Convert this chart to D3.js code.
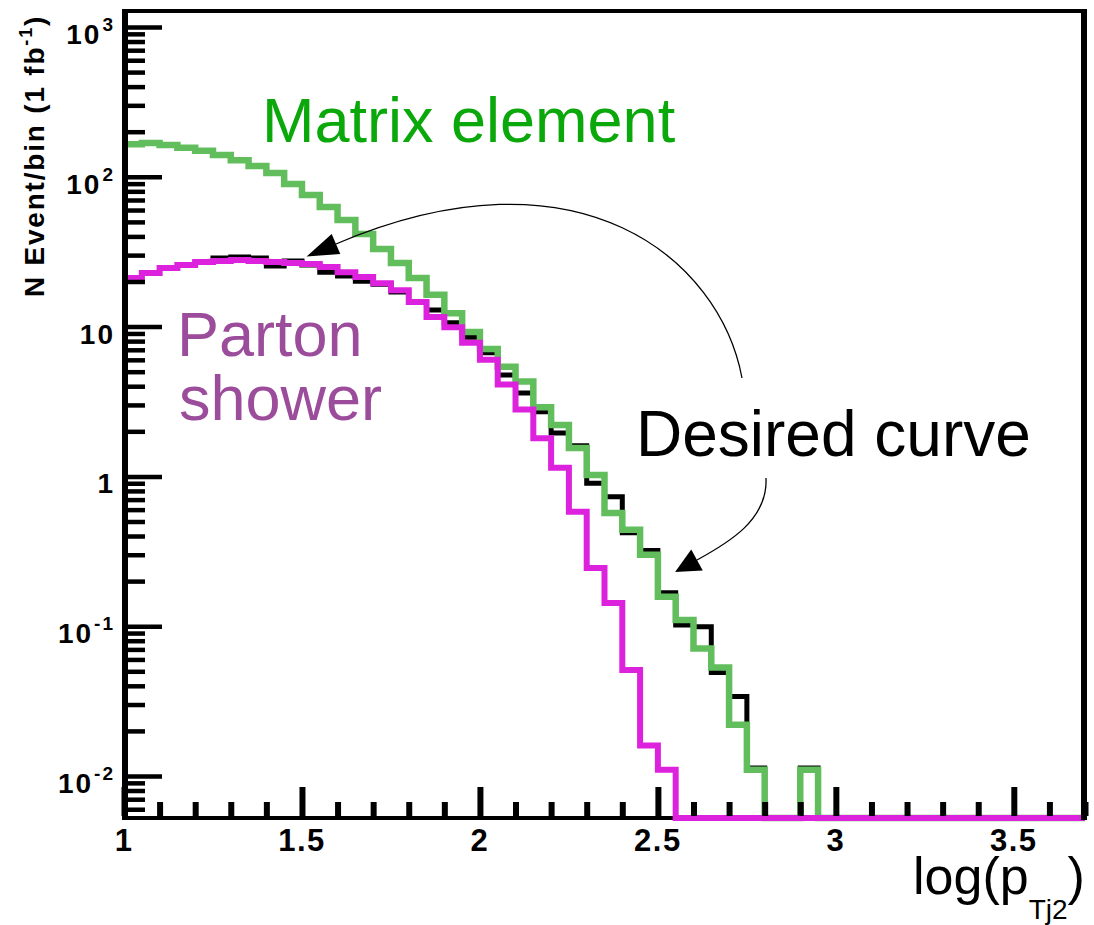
<!DOCTYPE html>
<html>
<head>
<meta charset="utf-8">
<script src="https://cdn.jsdelivr.net/npm/d3@7"></script>
<style>
  body { margin: 0; background: #fff; }
  svg { display: block; }
</style>
</head>
<body>
<svg id="chart" width="1094" height="925"></svg>
<script>
// Histogram binning of log(pT of the second jet)
const binLow = 1.0;
const binWidth = 0.05;

// Events per bin (1 fb^-1), one entry per bin starting at binLow
const matrixElement = [165, 168, 163, 156, 149, 140, 129, 118, 106, 89.5,
  75.6, 62.9, 51.5, 41.5, 33.0, 26.6, 21.1, 16.3, 12.3, 9.2,
  7.1, 5.4, 4.3, 2.9, 2.2, 1.55, 1.02, 0.57, 0.44, 0.30,
  0.157, 0.11, 0.071, 0.053, 0.022, 0.011, 0, 0, 0.011, 0,
  0, 0, 0, 0, 0, 0, 0, 0, 0, 0, 0, 0, 0, 0];

const partonShower = [21.1, 22.8, 24.6, 25.8, 27.0, 27.4, 27.8, 27.4, 27.0, 26.6,
  26.2, 25.0, 23.1, 21.4, 19.5, 17.5, 14.6, 11.6, 9.9, 7.8,
  6.0, 4.1, 2.8, 1.8, 1.14, 0.58, 0.245, 0.143, 0.051, 0.016,
  0.011, 0, 0, 0, 0, 0, 0, 0, 0, 0,
  0, 0, 0, 0, 0, 0, 0, 0, 0, 0, 0, 0, 0, 0];

const desiredCurve = [21.1, 22.8, 24.6, 25.8, 27.0, 28.7, 29.1, 28.7, 25.4, 27.4,
  25.8, 23.1, 21.8, 20.1, 19.2, 17.0, 14.6, 12.9, 10.6, 8.5,
  6.7, 4.75, 3.6, 2.7, 1.95, 1.6, 0.90, 0.73, 0.42, 0.32,
  0.167, 0.102, 0.099, 0.049, 0.034, 0.0113, 0, 0, 0.0113, 0,
  0, 0, 0, 0, 0, 0, 0, 0, 0, 0, 0, 0, 0, 0];

// Axis ticks
const xMajorTicks = [1, 1.5, 2, 2.5, 3, 3.5];
const xTickLabels = ["1", "1.5", "2", "2.5", "3", "3.5"];
const xMinorStep = 0.1;
const yDecades = [3, 2, 1, 0, -1, -2];
const xDomain = [1, 3.7];
const yDomain = [Math.pow(10, -2.2804), Math.pow(10, 3.1068)];

const svg = d3.select("#chart");
const frame = { left: 125, right: 1084, top: 11, bottom: 818 };

const x = d3.scaleLinear().domain(xDomain).range([124, 1085]);
const y = d3.scaleLog().domain(yDomain).range([frame.bottom, frame.top]);

const tickFont = "'Liberation Sans', Arial, Helvetica, sans-serif";

// ---- bottom axis line (histograms may overlay it) ----
svg.append("line")
  .attr("x1", frame.left - 3).attr("x2", frame.right + 3)
  .attr("y1", frame.bottom).attr("y2", frame.bottom)
  .attr("stroke", "#000").attr("stroke-width", 4);

// ---- histograms ----
function stepPoints(values) {
  const pts = values.map((v, i) => [binLow + i * binWidth, v]);
  pts.push([binLow + values.length * binWidth, values[values.length - 1]]);
  return pts;
}
const ymin = yDomain[0];
const histLine = d3.line()
  .x(d => x(d[0]))
  .y(d => y(Math.max(d[1], ymin)))
  .curve(d3.curveStepAfter);

const series = [
  { values: desiredCurve, color: "#000000", width: 5 },
  { values: matrixElement, color: "#62be5c", width: 6.5 },
  { values: partonShower, color: "#dd22dd", width: 6 }
];
svg.append("g").selectAll("path").data(series).join("path")
  .attr("d", s => histLine(stepPoints(s.values)))
  .attr("fill", "none")
  .attr("stroke", s => s.color)
  .attr("stroke-width", s => s.width)
  .attr("stroke-linejoin", "miter")
  .attr("stroke-linecap", "butt");

// ---- frame: left, top, right ----
svg.append("line").attr("x1", frame.left).attr("x2", frame.left)
  .attr("y1", frame.top - 2).attr("y2", frame.bottom + 2)
  .attr("stroke", "#000").attr("stroke-width", 6);
svg.append("line").attr("x1", frame.left - 3).attr("x2", frame.right + 3)
  .attr("y1", frame.top).attr("y2", frame.top)
  .attr("stroke", "#000").attr("stroke-width", 4);
svg.append("line").attr("x1", frame.right).attr("x2", frame.right)
  .attr("y1", frame.top - 2).attr("y2", frame.bottom + 2)
  .attr("stroke", "#000").attr("stroke-width", 6);

// ---- y axis ticks (log) ----
const yMajor = yDecades.map(k => Math.pow(10, k));
const yMinor = [];
for (let k = -3; k <= 3; k++) {
  for (let m = 2; m <= 9; m++) {
    const v = m * Math.pow(10, k);
    if (v > yDomain[0] && v < yDomain[1]) yMinor.push(v);
  }
}
function styleTicks(g, w) {
  g.select(".domain").remove();
  g.selectAll(".tick text").remove();
  g.selectAll(".tick line").attr("stroke", "#000").attr("stroke-width", w);
}
svg.append("g").attr("transform", `translate(${frame.left},0)`)
  .call(d3.axisRight(y).tickValues(yMajor).tickSize(37).tickFormat(""))
  .call(g => styleTicks(g, 4.5));
svg.append("g").attr("transform", `translate(${frame.left},0)`)
  .call(d3.axisRight(y).tickValues(yMinor).tickSize(20).tickFormat(""))
  .call(g => styleTicks(g, 4.5));

// ---- x axis ticks ----
const xMinor = d3.range(1, 3.7 + 1e-9, xMinorStep)
  .filter(v => !xMajorTicks.some(t => Math.abs(t - v) < 1e-6));
svg.append("g").attr("transform", `translate(0,${frame.bottom - 2})`)
  .call(d3.axisTop(x).tickValues(xMajorTicks).tickSize(29).tickFormat(""))
  .call(g => styleTicks(g, 6));
svg.append("g").attr("transform", `translate(0,${frame.bottom - 2})`)
  .call(d3.axisTop(x).tickValues(xMinor).tickSize(14).tickFormat(""))
  .call(g => styleTicks(g, 6));

// ---- tick labels ----
svg.append("g").selectAll("text").data(xMajorTicks).join("text")
  .attr("x", d => x(d))
  .attr("y", 851)
  .attr("text-anchor", "middle")
  .attr("font-family", tickFont)
  .attr("font-weight", "bold")
  .attr("font-size", 31)
  .attr("letter-spacing", 1.5)
  .text((d, i) => xTickLabels[i]);

const yLab = svg.append("g").selectAll("text").data(yDecades).join("text")
  .attr("x", 115)
  .attr("y", k => y(Math.pow(10, k)) + 17)
  .attr("text-anchor", "end")
  .attr("font-family", tickFont)
  .attr("font-weight", "bold")
  .attr("font-size", 28)
  .attr("letter-spacing", 2);
yLab.each(function (k) {
  const t = d3.select(this);
  if (k === 0) { t.text("1"); return; }
  if (k === 1) { t.text("10"); return; }
  t.append("tspan").text("10");
  t.append("tspan").attr("dy", -13).attr("font-size", 19).attr("dx", 1).text(String(k));
});

// ---- y axis title ----
const yTitle = svg.append("text")
  .attr("transform", "translate(44,156) rotate(-90)")
  .attr("text-anchor", "middle")
  .attr("font-family", tickFont)
  .attr("font-weight", "bold")
  .attr("font-size", 28)
  .attr("letter-spacing", 1.8);
yTitle.append("tspan").text("N Event/bin (1 fb");
yTitle.append("tspan").attr("dy", -12).attr("font-size", 18).text("-1");
yTitle.append("tspan").attr("dy", 12).text(")");

// ---- x axis title ----
const labelFont = "'Liberation Sans', Arial, Helvetica, sans-serif";
const xTitle = svg.append("text")
  .attr("x", 913).attr("y", 894)
  .attr("font-family", labelFont)
  .attr("font-size", 52)
  .attr("fill", "#000");
xTitle.append("tspan").text("log(p");
xTitle.append("tspan").attr("dy", 25).attr("font-size", 28).text("Tj2");
xTitle.append("tspan").attr("dy", -25).text(")");

// ---- annotations ----
svg.append("text").attr("x", 262).attr("y", 142)
  .attr("font-family", labelFont).attr("font-size", 63)
  .attr("fill", "#0aa80a").text("Matrix element");
svg.append("text").attr("x", 177).attr("y", 356)
  .attr("font-family", labelFont).attr("font-size", 63)
  .attr("fill", "#9b4c9b").text("Parton");
svg.append("text").attr("x", 179).attr("y", 420)
  .attr("font-family", labelFont).attr("font-size", 63)
  .attr("fill", "#9b4c9b").text("shower");
svg.append("text").attr("x", 636).attr("y", 456)
  .attr("font-family", labelFont).attr("font-size", 64)
  .attr("fill", "#000").text("Desired curve");

// curved arrows pointing from the "Desired curve" label to the histogram
function arrow(p0, p1, p2, p3, len, halfW) {
  const path = d3.path();
  path.moveTo(p0[0], p0[1]);
  path.bezierCurveTo(p1[0], p1[1], p2[0], p2[1], p3[0], p3[1]);
  svg.append("path").attr("d", path.toString())
    .attr("fill", "none").attr("stroke", "#000").attr("stroke-width", 1.3);
  const dx = p3[0] - p2[0], dy = p3[1] - p2[1];
  const n = Math.hypot(dx, dy);
  const ux = dx / n, uy = dy / n;
  const tip = [p3[0] + ux * len, p3[1] + uy * len];
  const a = [p3[0] - uy * halfW, p3[1] + ux * halfW];
  const b = [p3[0] + uy * halfW, p3[1] - ux * halfW];
  svg.append("path").attr("d", `M${tip}L${a}L${b}Z`).attr("fill", "#000");
}
arrow([742, 378], [720, 260], [580, 140], [336, 244], 32, 11);
arrow([766, 478], [768, 520], [728, 543], [697, 560], 25, 12);
</script>
</body>
</html>
